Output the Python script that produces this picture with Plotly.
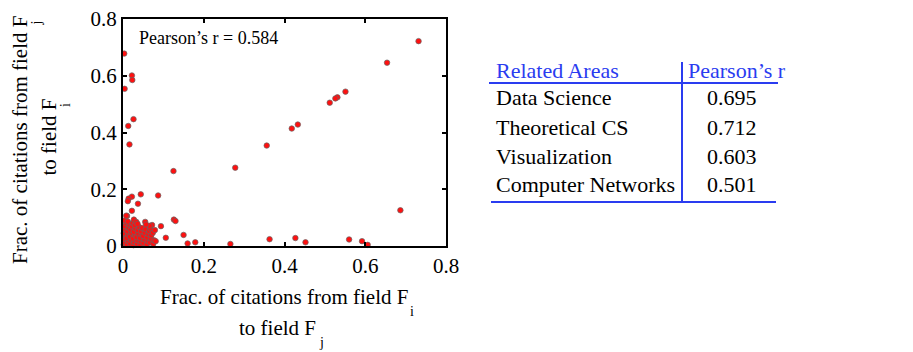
import plotly.graph_objects as go

W, H = 913, 352
OFF = 8  # the page body adds an 8px margin around the figure

# scattered points
x_outer = [0.732, 0.654, 0.551, 0.531, 0.526, 0.512, 0.433, 0.418, 0.356, 0.278,
           0.125, 0.687, 0.087, 0.044, 0.022, 0.014, 0.012, 0.037, 0.022, 0.008,
           0.003, 0.004, 0.022, 0.023, 0.026, 0.013, 0.016, 0.126, 0.130, 0.094,
           0.150, 0.106, 0.160, 0.179, 0.266, 0.363, 0.427, 0.452, 0.560, 0.592, 0.606]
y_outer = [0.722, 0.646, 0.544, 0.524, 0.520, 0.505, 0.428, 0.414, 0.354, 0.276,
           0.264, 0.126, 0.178, 0.182, 0.174, 0.167, 0.158, 0.149, 0.124, 0.107,
           0.678, 0.554, 0.601, 0.585, 0.447, 0.423, 0.358, 0.093, 0.088, 0.070,
           0.039, 0.029, 0.009, 0.013, 0.007, 0.024, 0.028, 0.013, 0.023, 0.017, 0.004]

# dense cluster near the origin
x_cluster = [0.002, 0.004, 0.003, 0.006, 0.002, 0.005, 0.003, 0.008, 0.004, 0.010,
             0.010, 0.012, 0.009, 0.013, 0.011, 0.014, 0.016, 0.012,
             0.018, 0.020, 0.017, 0.021, 0.019, 0.022, 0.024, 0.027,
             0.026, 0.028, 0.025, 0.030, 0.027, 0.031, 0.029, 0.033,
             0.035, 0.036, 0.034, 0.038, 0.037, 0.040, 0.036,
             0.043, 0.044, 0.042, 0.046, 0.045, 0.048,
             0.051, 0.053, 0.050, 0.054, 0.056, 0.055,
             0.059, 0.061, 0.060, 0.063, 0.065,
             0.067, 0.069, 0.070, 0.068, 0.072,
             0.075, 0.077, 0.074, 0.079, 0.081, 0.066, 0.057]
y_cluster = [0.005, 0.012, 0.025, 0.035, 0.045, 0.058, 0.070, 0.080, 0.090, 0.106,
             0.004, 0.018, 0.028, 0.041, 0.052, 0.064, 0.075, 0.086,
             0.008, 0.022, 0.033, 0.047, 0.058, 0.069, 0.081, 0.093,
             0.003, 0.014, 0.026, 0.038, 0.050, 0.062, 0.074, 0.085,
             0.007, 0.020, 0.031, 0.044, 0.056, 0.067, 0.078,
             0.004, 0.016, 0.028, 0.040, 0.052, 0.063,
             0.010, 0.024, 0.035, 0.047, 0.059, 0.085,
             0.005, 0.018, 0.030, 0.042, 0.053,
             0.012, 0.026, 0.038, 0.061, 0.074,
             0.008, 0.020, 0.047, 0.056, 0.017, 0.071, 0.076]

pearson_text = "Pearson’s r = 0.584"
x_ticks = [0, 0.2, 0.4, 0.6, 0.8]
y_ticks = [0, 0.2, 0.4, 0.6, 0.8]

x_title = ["Frac. of citations from field F", "i", "to field F", "j"]
y_title = ["Frac. of citations from field F", "j", "to field F", "i"]

table_header = ["Related Areas", "Pearson’s r"]
areas = ["Data Science", "Theoretical CS", "Visualization", "Computer Networks"]
r_values = ["0.695", "0.712", "0.603", "0.501"]

FONT = "'Liberation Serif', 'Times New Roman', 'DejaVu Serif', serif"
BLUE = "#2a3cf0"


def px(x):
    return (x - OFF) / W


def py(y):
    return 1 - (y - OFF) / H


fig = go.Figure()
fig.add_trace(go.Scatter(
    x=x_cluster + x_outer, y=y_cluster + y_outer, mode="markers",
    marker=dict(size=5.5, color="#ff1010", line=dict(color="#666666", width=0.7)),
    cliponaxis=False, showlegend=False, hoverinfo="x+y"))

axis_common = dict(
    range=[0, 0.8], showgrid=False, zeroline=False, showline=True, linecolor="black",
    linewidth=2, mirror="ticks", ticks="inside", ticklen=4, tickwidth=1.5,
    tickcolor="black", tickfont=dict(family=FONT, size=21, color="black"),
    automargin=False, ticklabeloverflow="allow",
)

fig.update_layout(
    width=W, height=H, margin=dict(l=0, r=0, t=0, b=0, autoexpand=False),
    paper_bgcolor="white", plot_bgcolor="white",
    xaxis=dict(domain=[px(123), px(446)], tickvals=x_ticks,
               ticktext=[f"{v:g}" for v in x_ticks], **axis_common),
    yaxis=dict(domain=[py(246), py(19)], tickvals=y_ticks,
               ticktext=[f"{v:g}" for v in y_ticks], **axis_common),
    font=dict(family=FONT, color="black"),
)


def note(text, x, y, size, xa="center", ya="middle", color="black", angle=0):
    return dict(text=text, x=px(x), y=py(y), xref="paper", yref="paper",
                xanchor=xa, yanchor=ya, showarrow=False, textangle=angle,
                font=dict(family=FONT, size=size, color=color))


TS = 21  # axis title font size
SS = 14  # subscript font size
ann = [note(pearson_text, 137, 38, 18, xa="left")]
# x axis title (main text right-aligned to the subscript)
ann.append(note(x_title[0], 410, 297, TS, xa="right"))
ann.append(note(x_title[1], 408, 311, SS, xa="left"))
ann.append(note(x_title[2], 318, 328, TS, xa="right"))
ann.append(note(x_title[3], 317, 342, SS, xa="left"))
# y axis title (rotated)
ann.append(note(y_title[0], 20, 266, TS, ya="bottom", angle=-90))
ann.append(note(y_title[1], 36, 19, SS, ya="top", angle=-90))
ann.append(note(y_title[2], 48, 178, TS, ya="bottom", angle=-90))
ann.append(note(y_title[3], 66, 101, SS, ya="top", angle=-90))

# table
ann.append(note(table_header[0], 494, 71, 22, xa="left", color=BLUE))
ann.append(note(table_header[1], 686, 71, 22, xa="left", color=BLUE))
row_y = [98, 127, 156, 184]
for name, val, ry in zip(areas, r_values, row_y):
    ann.append(note(name, 494, ry, 22, xa="left"))
    ann.append(note(val, 732, ry, 22))


def seg(x0, y0, x1, y1):
    return dict(type="line", xref="paper", yref="paper", x0=px(x0), x1=px(x1),
                y0=py(y0), y1=py(y1), line=dict(color=BLUE, width=2))


shapes = [seg(489, 83, 778, 83), seg(491, 202, 776, 202), seg(682, 62, 682, 202)]
fig.update_layout(annotations=ann, shapes=shapes)

fig.write_html("out.html")
